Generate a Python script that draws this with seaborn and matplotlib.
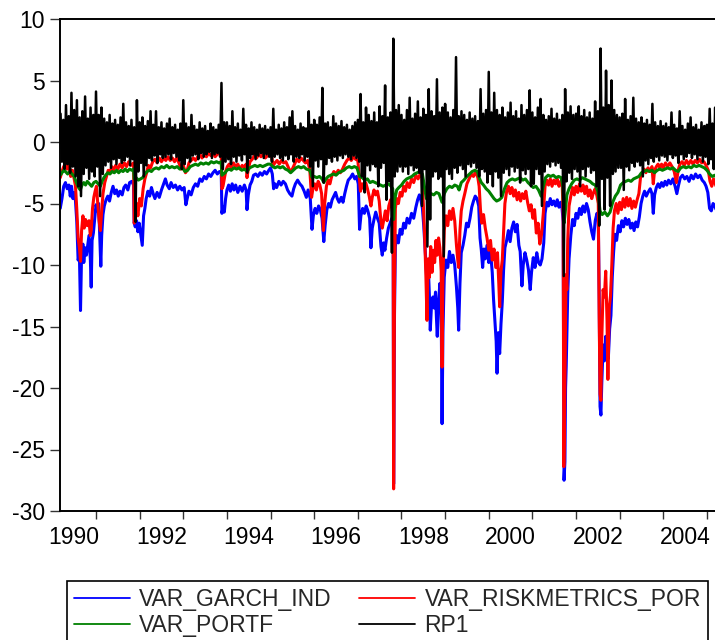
import numpy as np
import pandas as pd
import matplotlib
matplotlib.use("Agg")
import matplotlib.pyplot as plt
import seaborn as sns
from matplotlib.ticker import FixedLocator, NullFormatter, FixedFormatter
from matplotlib.lines import Line2D

# ---------------- data (decimal year, value) ----------------
garch_pts = [
 (1990.18,-5.4),(1990.22,-4.6),(1990.26,-3.6),(1990.30,-3.3),(1990.34,-3.8),(1990.38,-3.5),
 (1990.41,-4.4),(1990.44,-3.6),(1990.47,-4.6),(1990.50,-4.1),(1990.53,-4.8),(1990.56,-6.5),
 (1990.59,-9.6),(1990.62,-9.2),(1990.645,-13.7),(1990.67,-9.0),(1990.70,-8.3),(1990.72,-9.8),
 (1990.75,-8.6),(1990.78,-9.2),(1990.81,-8.4),(1990.84,-7.6),(1990.87,-9.5),(1990.89,-11.8),
 (1990.91,-8.0),(1990.94,-7.4),(1990.97,-6.2),(1991.00,-5.1),(1991.03,-5.6),(1991.06,-5.0),
 (1991.09,-8.2),(1991.11,-10.1),(1991.13,-7.6),(1991.16,-5.9),(1991.19,-5.2),(1991.23,-4.7),
 (1991.27,-4.4),(1991.31,-4.8),(1991.35,-4.1),(1991.39,-3.6),(1991.43,-4.2),(1991.47,-3.9),
 (1991.51,-4.4),(1991.55,-4.0),(1991.60,-4.3),(1991.64,-3.7),(1991.68,-3.5),(1991.73,-3.9),
 (1991.77,-3.3),(1991.82,-3.2),(1991.86,-3.5),(1991.875,-6.6),(1991.90,-6.9),(1991.93,-6.4),
 (1991.96,-7.3),(1991.99,-6.6),(1992.03,-7.6),(1992.06,-8.4),(1992.09,-6.0),(1992.12,-5.4),
 (1992.15,-4.6),(1992.19,-4.0),(1992.23,-4.4),(1992.27,-3.7),(1992.31,-4.2),(1992.35,-4.6),
 (1992.40,-4.1),(1992.45,-4.5),(1992.50,-3.9),(1992.55,-3.4),(1992.59,-3.0),(1992.63,-3.5),
 (1992.68,-3.8),(1992.72,-3.3),(1992.77,-3.7),(1992.82,-3.5),(1992.87,-3.9),(1992.92,-3.6),
 (1992.97,-3.9),(1993.02,-3.7),(1993.06,-5.1),(1993.09,-4.6),(1993.13,-4.0),(1993.18,-4.3),
 (1993.23,-3.7),(1993.28,-3.4),(1993.33,-3.6),(1993.38,-3.0),(1993.43,-3.2),(1993.48,-2.8),
 (1993.53,-3.0),(1993.58,-2.6),(1993.63,-2.8),(1993.68,-2.5),(1993.73,-2.3),(1993.78,-2.6),
 (1993.83,-2.4),(1993.87,-2.5),(1993.885,-5.8),(1993.91,-5.3),(1993.94,-5.7),(1993.97,-4.6),
 (1994.00,-3.9),(1994.04,-3.5),(1994.08,-4.0),(1994.12,-3.4),(1994.16,-3.9),(1994.20,-3.5),
 (1994.25,-4.1),(1994.30,-3.6),(1994.35,-4.0),(1994.40,-3.5),(1994.44,-3.9),(1994.46,-5.5),
 (1994.49,-4.3),(1994.53,-3.5),(1994.57,-3.2),(1994.61,-2.7),(1994.66,-2.6),(1994.71,-2.8),
 (1994.76,-2.5),(1994.81,-2.7),(1994.86,-2.4),(1994.91,-2.6),(1994.96,-2.3),(1995.00,-2.1),
 (1995.04,-2.6),(1995.07,-3.8),(1995.10,-3.4),(1995.14,-3.7),(1995.19,-3.2),(1995.24,-3.5),
 (1995.29,-3.2),(1995.34,-3.4),(1995.39,-3.9),(1995.44,-4.2),(1995.49,-4.4),(1995.53,-3.8),
 (1995.57,-3.4),(1995.62,-3.1),(1995.67,-3.4),(1995.72,-3.6),(1995.77,-4.0),(1995.82,-4.5),
 (1995.86,-3.9),(1995.91,-4.6),(1995.95,-7.1),(1995.98,-6.0),(1996.02,-5.4),(1996.06,-5.8),
 (1996.10,-5.2),(1996.14,-5.5),(1996.18,-6.2),(1996.22,-8.1),(1996.25,-6.8),(1996.29,-5.5),
 (1996.33,-5.0),(1996.37,-5.3),(1996.41,-4.7),(1996.45,-4.4),(1996.49,-4.1),(1996.53,-4.6),
 (1996.57,-4.9),(1996.62,-4.5),(1996.66,-4.9),(1996.70,-4.2),(1996.74,-3.6),(1996.78,-3.1),
 (1996.83,-2.9),(1996.88,-2.6),(1996.93,-3.0),(1996.97,-2.8),(1997.01,-3.4),(1997.04,-7.1),
 (1997.07,-6.0),(1997.11,-5.4),(1997.15,-5.8),(1997.19,-5.2),(1997.23,-5.6),(1997.27,-6.2),
 (1997.30,-8.6),(1997.33,-7.0),(1997.37,-6.3),(1997.41,-5.7),(1997.45,-6.2),(1997.49,-6.6),
 (1997.53,-8.5),(1997.56,-9.2),(1997.59,-8.2),(1997.62,-8.8),(1997.66,-7.8),(1997.70,-7.0),
 (1997.74,-6.6),(1997.78,-6.2),(1997.81,-7.0),(1997.82,-27.8),(1997.84,-14.0),(1997.86,-8.5),
 (1997.89,-7.6),(1997.93,-8.2),(1997.97,-7.1),(1998.01,-7.5),(1998.05,-6.6),(1998.09,-7.0),
 (1998.13,-6.2),(1998.18,-6.6),(1998.23,-5.8),(1998.28,-6.2),(1998.33,-5.3),(1998.37,-4.7),
 (1998.41,-4.3),(1998.45,-4.8),(1998.48,-5.4),(1998.51,-6.8),(1998.55,-9.2),(1998.58,-11.2),
 (1998.61,-9.8),(1998.64,-12.5),(1998.66,-15.3),(1998.69,-13.1),(1998.72,-12.6),(1998.75,-13.5),
 (1998.78,-12.2),(1998.80,-14.2),(1998.82,-15.8),(1998.85,-13.0),(1998.88,-11.5),(1998.91,-13.8),
 (1998.93,-22.9),(1998.95,-15.5),(1998.98,-11.0),(1999.02,-9.6),(1999.06,-10.2),(1999.10,-8.9),
 (1999.14,-9.8),(1999.18,-9.2),(1999.22,-10.0),(1999.26,-11.8),(1999.29,-13.5),(1999.31,-15.3),
 (1999.34,-11.5),(1999.37,-9.0),(1999.41,-8.4),(1999.45,-7.6),(1999.49,-6.6),(1999.53,-6.9),
 (1999.57,-6.2),(1999.61,-5.3),(1999.65,-4.8),(1999.69,-4.4),(1999.73,-4.6),(1999.77,-5.2),
 (1999.80,-7.8),(1999.83,-8.8),(1999.86,-10.2),(1999.89,-8.7),(1999.92,-9.5),(1999.96,-8.4),
 (2000.00,-9.8),(2000.04,-8.9),(2000.08,-10.6),(2000.11,-12.8),(2000.14,-14.5),(2000.17,-16.2),
 (2000.19,-18.8),(2000.22,-15.5),(2000.25,-17.2),(2000.28,-14.8),(2000.31,-13.0),(2000.34,-10.4),
 (2000.37,-8.6),(2000.41,-8.0),(2000.45,-7.2),(2000.49,-8.1),(2000.53,-7.0),(2000.57,-6.5),
 (2000.61,-7.3),(2000.65,-6.7),(2000.69,-8.4),(2000.72,-8.9),(2000.76,-11.7),(2000.79,-10.0),
 (2000.83,-9.0),(2000.87,-9.6),(2000.91,-10.4),(2000.95,-12.0),(2000.98,-10.6),(2001.02,-9.4),
 (2001.06,-10.2),(2001.10,-9.0),(2001.14,-9.8),(2001.18,-10.0),(2001.22,-9.5),(2001.26,-8.2),
 (2001.29,-5.8),(2001.33,-4.9),(2001.37,-5.2),(2001.41,-4.6),(2001.45,-5.1),(2001.49,-4.8),
 (2001.53,-5.2),(2001.57,-4.7),(2001.61,-5.3),(2001.65,-4.9),(2001.68,-5.4),(2001.705,-6.5),
 (2001.725,-27.5),(2001.745,-26.0),(2001.76,-20.0),(2001.775,-18.2),(2001.79,-15.5),(2001.81,-12.3),
 (2001.84,-9.5),(2001.88,-7.6),(2001.92,-6.3),(2001.96,-6.8),(2002.00,-5.8),(2002.04,-6.2),
 (2002.08,-5.4),(2002.12,-5.9),(2002.16,-5.2),(2002.20,-5.7),(2002.24,-5.0),(2002.28,-5.5),
 (2002.32,-6.5),(2002.36,-7.3),(2002.40,-7.9),(2002.44,-6.4),(2002.48,-5.8),(2002.51,-6.3),
 (2002.53,-12.5),(2002.55,-21.5),(2002.57,-22.2),(2002.59,-19.6),(2002.62,-16.5),(2002.65,-17.8),
 (2002.68,-15.8),(2002.71,-16.8),(2002.74,-17.6),(2002.77,-15.2),(2002.80,-14.1),(2002.83,-11.0),
 (2002.86,-9.0),(2002.89,-7.5),(2002.93,-8.0),(2002.97,-6.8),(2003.01,-7.3),(2003.05,-6.4),
 (2003.09,-6.9),(2003.13,-6.2),(2003.17,-6.7),(2003.21,-6.3),(2003.25,-7.0),(2003.29,-6.6),
 (2003.33,-7.2),(2003.37,-6.5),(2003.41,-6.9),(2003.45,-6.1),(2003.49,-5.0),(2003.53,-4.4),
 (2003.57,-4.0),(2003.61,-4.4),(2003.65,-4.1),(2003.70,-3.8),(2003.74,-4.2),(2003.77,-5.8),
 (2003.80,-4.3),(2003.84,-3.7),(2003.88,-3.4),(2003.92,-3.7),(2003.96,-3.3),(2004.00,-3.6),
 (2004.04,-3.2),(2004.08,-3.5),(2004.12,-3.1),(2004.17,-3.4),(2004.22,-3.0),(2004.27,-3.6),
 (2004.31,-4.2),(2004.35,-3.5),(2004.39,-2.9),(2004.44,-2.7),(2004.49,-3.0),(2004.54,-2.8),
 (2004.59,-3.2),(2004.64,-2.7),(2004.69,-3.0),(2004.74,-2.6),(2004.79,-2.9),(2004.84,-2.7),
 (2004.89,-3.1),(2004.94,-3.3),(2004.98,-3.6),(2005.02,-4.1),(2005.06,-5.4),(2005.10,-5.6),
 (2005.14,-5.0),(2005.18,-5.2),(2005.22,-5.6)]

riskmetrics_pts = [
 (1990.18,-2.9),(1990.22,-2.4),(1990.26,-2.0),(1990.30,-1.8),(1990.34,-2.2),(1990.38,-1.9),
 (1990.42,-2.8),(1990.46,-2.3),(1990.50,-3.0),(1990.53,-3.6),(1990.56,-5.5),(1990.59,-7.8),
 (1990.62,-8.6),(1990.645,-9.7),(1990.67,-7.2),(1990.70,-6.0),(1990.73,-7.0),(1990.76,-6.3),
 (1990.80,-6.8),(1990.84,-6.4),(1990.87,-7.6),(1990.89,-7.2),(1990.92,-5.4),(1990.95,-4.5),
 (1990.98,-4.0),(1991.01,-3.6),(1991.04,-5.0),(1991.07,-6.4),(1991.10,-7.2),(1991.13,-5.6),
 (1991.16,-4.2),(1991.20,-3.3),(1991.24,-2.8),(1991.28,-2.3),(1991.32,-2.5),(1991.36,-2.0),
 (1991.40,-2.3),(1991.45,-1.9),(1991.50,-2.2),(1991.55,-1.8),(1991.60,-2.1),(1991.65,-1.7),
 (1991.70,-2.0),(1991.75,-1.6),(1991.80,-1.9),(1991.86,-1.7),(1991.875,-6.6),(1991.90,-6.2),
 (1991.93,-5.0),(1991.96,-6.0),(1992.00,-4.6),(1992.04,-5.2),(1992.08,-3.8),(1992.12,-3.0),
 (1992.16,-2.5),(1992.20,-1.9),(1992.25,-2.1),(1992.30,-1.6),(1992.35,-1.4),(1992.40,-1.7),
 (1992.45,-1.3),(1992.50,-1.6),(1992.55,-1.3),(1992.60,-1.5),(1992.65,-1.2),(1992.70,-1.5),
 (1992.75,-1.3),(1992.80,-1.6),(1992.85,-1.3),(1992.90,-1.7),(1992.95,-2.2),(1993.00,-1.9),
 (1993.05,-2.5),(1993.09,-2.3),(1993.13,-1.7),(1993.18,-1.5),(1993.23,-1.3),(1993.28,-1.5),
 (1993.33,-1.2),(1993.38,-1.0),(1993.43,-1.3),(1993.48,-1.0),(1993.53,-1.2),(1993.58,-0.9),
 (1993.63,-1.1),(1993.68,-0.9),(1993.73,-1.2),(1993.78,-1.0),(1993.83,-0.9),(1993.87,-1.1),
 (1993.885,-3.8),(1993.91,-3.6),(1993.94,-3.0),(1993.97,-2.4),(1994.01,-2.0),(1994.05,-1.8),
 (1994.10,-2.1),(1994.15,-1.7),(1994.20,-2.0),(1994.25,-1.8),(1994.30,-2.2),(1994.35,-1.9),
 (1994.40,-2.1),(1994.44,-1.8),(1994.46,-2.9),(1994.49,-2.2),(1994.53,-1.6),(1994.58,-1.4),
 (1994.63,-1.1),(1994.68,-1.3),(1994.73,-1.0),(1994.78,-1.2),(1994.83,-1.0),(1994.88,-1.3),
 (1994.93,-1.1),(1994.98,-0.9),(1995.02,-1.1),(1995.06,-1.9),(1995.10,-1.7),(1995.15,-1.5),
 (1995.20,-1.8),(1995.25,-1.5),(1995.30,-1.7),(1995.35,-1.6),(1995.40,-2.0),(1995.45,-2.4),
 (1995.50,-2.2),(1995.55,-1.8),(1995.60,-1.4),(1995.65,-1.6),(1995.70,-1.3),(1995.75,-1.5),
 (1995.80,-1.7),(1995.85,-1.5),(1995.90,-2.3),(1995.94,-4.5),(1995.97,-3.8),(1996.01,-3.4),
 (1996.05,-3.9),(1996.09,-3.2),(1996.13,-3.5),(1996.17,-4.2),(1996.21,-7.2),(1996.24,-5.0),
 (1996.28,-3.6),(1996.32,-3.1),(1996.36,-3.4),(1996.40,-2.8),(1996.45,-2.4),(1996.50,-2.6),
 (1996.55,-2.3),(1996.60,-2.5),(1996.65,-2.2),(1996.70,-1.8),(1996.75,-1.5),(1996.80,-1.3),
 (1996.85,-1.5),(1996.90,-1.2),(1996.95,-1.4),(1997.00,-1.5),(1997.03,-2.8),(1997.06,-4.0),
 (1997.10,-3.4),(1997.14,-3.8),(1997.18,-3.3),(1997.22,-3.8),(1997.26,-4.4),(1997.30,-5.2),
 (1997.33,-4.5),(1997.37,-3.9),(1997.41,-4.3),(1997.45,-4.0),(1997.49,-4.8),(1997.53,-6.5),
 (1997.56,-7.0),(1997.60,-6.2),(1997.63,-5.6),(1997.67,-6.4),(1997.71,-5.2),(1997.75,-4.7),
 (1997.78,-5.4),(1997.81,-6.0),(1997.82,-28.2),(1997.84,-12.0),(1997.86,-5.4),(1997.89,-4.6),
 (1997.93,-5.0),(1997.97,-4.1),(1998.01,-4.4),(1998.05,-3.6),(1998.09,-4.0),(1998.13,-3.3),
 (1998.18,-3.7),(1998.23,-3.0),(1998.28,-3.3),(1998.33,-2.7),(1998.38,-3.0),(1998.43,-2.6),
 (1998.47,-2.9),(1998.50,-5.0),(1998.53,-7.5),(1998.56,-11.0),(1998.585,-14.5),(1998.61,-9.5),
 (1998.64,-11.0),(1998.67,-8.5),(1998.70,-10.6),(1998.73,-8.8),(1998.76,-9.8),(1998.79,-8.0),
 (1998.82,-9.2),(1998.85,-7.8),(1998.88,-8.6),(1998.91,-10.5),(1998.93,-18.3),(1998.95,-11.0),
 (1998.98,-7.2),(1999.02,-6.0),(1999.06,-6.8),(1999.10,-5.6),(1999.14,-6.3),(1999.18,-5.4),
 (1999.22,-6.4),(1999.26,-8.4),(1999.29,-9.6),(1999.31,-10.2),(1999.34,-7.2),(1999.37,-5.6),
 (1999.41,-4.8),(1999.45,-4.2),(1999.50,-3.4),(1999.55,-3.0),(1999.60,-2.6),(1999.65,-2.8),
 (1999.70,-2.4),(1999.75,-2.9),(1999.78,-3.6),(1999.81,-5.5),(1999.84,-6.6),(1999.88,-5.9),
 (1999.92,-7.0),(1999.96,-7.8),(2000.00,-8.8),(2000.04,-8.0),(2000.08,-9.6),(2000.12,-8.7),
 (2000.16,-10.2),(2000.20,-9.0),(2000.23,-11.5),(2000.25,-13.4),(2000.28,-10.5),(2000.31,-9.6),
 (2000.34,-7.2),(2000.37,-5.0),(2000.41,-4.0),(2000.45,-3.6),(2000.49,-4.2),(2000.53,-3.7),
 (2000.57,-4.4),(2000.61,-3.9),(2000.65,-4.7),(2000.69,-4.1),(2000.73,-4.8),(2000.77,-4.2),
 (2000.81,-4.6),(2000.85,-4.0),(2000.89,-4.9),(2000.93,-5.6),(2000.97,-5.1),(2001.01,-6.2),
 (2001.05,-5.5),(2001.09,-7.4),(2001.13,-6.6),(2001.17,-8.3),(2001.21,-7.5),(2001.25,-5.8),
 (2001.29,-3.6),(2001.33,-3.1),(2001.37,-3.5),(2001.41,-3.0),(2001.45,-3.6),(2001.49,-3.1),
 (2001.53,-3.4),(2001.57,-3.0),(2001.61,-3.6),(2001.65,-3.2),(2001.685,-3.6),(2001.705,-6.0),
 (2001.72,-26.4),(2001.74,-21.5),(2001.755,-16.0),(2001.77,-10.8),(2001.79,-12.0),(2001.81,-8.0),
 (2001.84,-5.2),(2001.88,-4.4),(2001.92,-3.7),(2001.96,-4.3),(2002.00,-3.6),(2002.04,-4.1),
 (2002.08,-3.4),(2002.12,-4.0),(2002.16,-3.5),(2002.20,-4.2),(2002.24,-3.6),(2002.28,-4.4),
 (2002.32,-3.9),(2002.36,-4.6),(2002.40,-4.1),(2002.44,-3.8),(2002.48,-4.4),(2002.51,-5.0),
 (2002.53,-14.0),(2002.55,-20.5),(2002.57,-21.0),(2002.59,-16.0),(2002.62,-12.0),(2002.65,-12.6),
 (2002.68,-10.5),(2002.71,-14.5),(2002.73,-19.3),(2002.76,-13.5),(2002.79,-12.5),(2002.82,-10.0),
 (2002.85,-7.0),(2002.88,-5.6),(2002.92,-5.0),(2002.96,-5.8),(2003.00,-4.9),(2003.04,-5.5),
 (2003.08,-4.6),(2003.12,-5.3),(2003.16,-4.5),(2003.20,-5.2),(2003.24,-4.6),(2003.28,-5.4),
 (2003.32,-4.8),(2003.36,-5.3),(2003.40,-4.7),(2003.44,-4.2),(2003.48,-2.8),(2003.52,-2.5),
 (2003.56,-2.2),(2003.60,-2.5),(2003.65,-2.1),(2003.70,-2.4),(2003.74,-2.0),(2003.77,-3.4),
 (2003.80,-2.3),(2003.84,-2.0),(2003.88,-1.8),(2003.92,-2.1),(2003.96,-1.8),(2004.00,-2.1),
 (2004.05,-1.7),(2004.10,-2.0),(2004.15,-1.7),(2004.20,-2.0),(2004.25,-2.4),(2004.30,-3.3),
 (2004.34,-2.3),(2004.38,-1.8),(2004.43,-1.6),(2004.48,-1.9),(2004.53,-1.5),(2004.58,-1.8),
 (2004.63,-1.5),(2004.68,-1.8),(2004.73,-1.5),(2004.78,-1.7),(2004.83,-1.4),(2004.88,-1.7),
 (2004.93,-1.6),(2004.98,-1.9),(2005.03,-2.3),(2005.07,-3.2),(2005.11,-3.6),(2005.15,-3.0),
 (2005.19,-3.4),(2005.22,-3.7)]

portf_pts = [
 (1990.18,-2.7),(1990.22,-2.5),(1990.26,-2.3),(1990.30,-2.4),(1990.35,-2.6),(1990.40,-2.4),
 (1990.45,-2.6),(1990.50,-2.8),(1990.55,-3.3),(1990.60,-3.7),(1990.64,-3.9),(1990.68,-3.5),
 (1990.72,-3.3),(1990.76,-3.5),(1990.80,-3.2),(1990.85,-3.4),(1990.90,-3.6),(1990.95,-3.3),
 (1991.00,-3.2),(1991.05,-3.4),(1991.10,-3.6),(1991.14,-3.2),(1991.18,-2.9),(1991.22,-2.7),
 (1991.27,-2.5),(1991.32,-2.6),(1991.37,-2.4),(1991.42,-2.5),(1991.47,-2.3),(1991.52,-2.5),
 (1991.57,-2.3),(1991.62,-2.4),(1991.67,-2.2),(1991.72,-2.4),(1991.77,-2.2),(1991.82,-2.3),
 (1991.86,-2.2),(1991.875,-3.0),(1991.92,-2.9),(1991.97,-3.1),(1992.02,-3.0),(1992.07,-2.9),
 (1992.12,-2.6),(1992.17,-2.4),(1992.22,-2.3),(1992.27,-2.4),(1992.32,-2.2),(1992.38,-2.1),
 (1992.44,-2.2),(1992.50,-2.0),(1992.56,-2.1),(1992.62,-1.9),(1992.68,-2.1),(1992.74,-2.0),
 (1992.80,-2.1),(1992.86,-2.0),(1992.92,-2.2),(1992.98,-2.1),(1993.04,-2.4),(1993.10,-2.3),
 (1993.16,-2.0),(1993.22,-1.9),(1993.28,-1.8),(1993.34,-1.9),(1993.40,-1.7),(1993.46,-1.8),
 (1993.52,-1.7),(1993.58,-1.8),(1993.64,-1.6),(1993.70,-1.7),(1993.76,-1.6),(1993.82,-1.7),
 (1993.87,-1.6),(1993.885,-2.7),(1993.92,-2.6),(1993.96,-2.5),(1994.00,-2.3),(1994.05,-2.2),
 (1994.10,-2.3),(1994.16,-2.1),(1994.22,-2.2),(1994.28,-2.1),(1994.34,-2.3),(1994.40,-2.2),
 (1994.46,-2.4),(1994.52,-2.1),(1994.58,-2.0),(1994.64,-1.9),(1994.70,-2.0),(1994.76,-1.9),
 (1994.82,-2.0),(1994.88,-1.9),(1994.94,-1.8),(1995.00,-1.8),(1995.05,-2.0),(1995.10,-2.1),
 (1995.16,-2.0),(1995.22,-2.1),(1995.28,-2.0),(1995.34,-2.2),(1995.40,-2.3),(1995.46,-2.5),
 (1995.52,-2.3),(1995.58,-2.1),(1995.64,-2.0),(1995.70,-2.1),(1995.76,-2.0),(1995.82,-2.2),
 (1995.90,-2.3),(1995.95,-2.9),(1996.00,-2.8),(1996.06,-2.9),(1996.12,-2.8),(1996.18,-3.0),
 (1996.22,-3.3),(1996.27,-3.0),(1996.32,-2.8),(1996.38,-2.7),(1996.44,-2.6),(1996.50,-2.7),
 (1996.56,-2.5),(1996.62,-2.4),(1996.68,-2.3),(1996.74,-2.1),(1996.80,-2.0),(1996.86,-2.1),
 (1996.92,-2.0),(1996.98,-2.1),(1997.04,-2.8),(1997.10,-2.9),(1997.16,-3.1),(1997.22,-3.0),
 (1997.28,-3.3),(1997.34,-3.2),(1997.40,-3.3),(1997.46,-3.4),(1997.52,-3.5),(1997.58,-3.6),
 (1997.64,-3.5),(1997.70,-3.4),(1997.76,-3.6),(1997.80,-3.8),(1997.82,-6.3),(1997.85,-4.6),
 (1997.89,-3.9),(1997.94,-3.7),(1998.00,-3.5),(1998.06,-3.2),(1998.12,-3.0),(1998.18,-2.9),
 (1998.24,-2.8),(1998.30,-2.6),(1998.36,-2.5),(1998.42,-2.4),(1998.48,-2.6),(1998.52,-3.5),
 (1998.57,-4.6),(1998.62,-4.4),(1998.68,-4.2),(1998.74,-4.3),(1998.80,-4.1),(1998.86,-4.2),
 (1998.93,-4.9),(1998.98,-4.2),(1999.04,-3.8),(1999.10,-3.6),(1999.16,-3.7),(1999.22,-3.5),
 (1999.28,-3.6),(1999.32,-3.9),(1999.37,-3.3),(1999.43,-3.1),(1999.50,-2.8),(1999.56,-2.6),
 (1999.62,-2.4),(1999.68,-2.3),(1999.74,-2.4),(1999.78,-2.9),(1999.83,-3.3),(1999.88,-3.5),
 (1999.94,-3.8),(2000.00,-4.0),(2000.06,-4.3),(2000.12,-4.6),(2000.18,-4.8),(2000.24,-4.7),
 (2000.30,-4.5),(2000.36,-3.8),(2000.42,-3.3),(2000.48,-3.1),(2000.54,-3.0),(2000.60,-3.1),
 (2000.66,-3.0),(2000.72,-2.9),(2000.78,-3.1),(2000.84,-3.0),(2000.90,-3.3),(2000.96,-3.5),
 (2001.02,-3.7),(2001.08,-3.6),(2001.14,-3.9),(2001.20,-4.4),(2001.25,-3.6),(2001.30,-2.9),
 (2001.36,-2.7),(2001.42,-2.8),(2001.48,-2.7),(2001.54,-2.9),(2001.60,-2.8),(2001.66,-2.9),
 (2001.70,-3.6),(2001.725,-6.6),(2001.75,-5.8),(2001.79,-4.3),(2001.84,-3.8),(2001.90,-3.4),
 (2001.96,-3.1),(2002.02,-3.0),(2002.08,-3.1),(2002.14,-2.9),(2002.20,-3.0),(2002.26,-3.1),
 (2002.32,-3.2),(2002.38,-3.4),(2002.44,-3.5),(2002.50,-4.0),(2002.55,-5.6),(2002.60,-5.9),
 (2002.66,-5.7),(2002.72,-6.0),(2002.78,-5.7),(2002.84,-4.9),(2002.90,-4.4),(2002.96,-4.1),
 (2003.02,-3.5),(2003.08,-3.3),(2003.14,-3.2),(2003.20,-3.1),(2003.26,-3.2),(2003.32,-3.0),
 (2003.38,-2.9),(2003.44,-2.8),(2003.50,-2.5),(2003.56,-2.4),(2003.62,-2.3),(2003.68,-2.4),
 (2003.74,-2.3),(2003.80,-2.5),(2003.86,-2.3),(2003.92,-2.2),(2003.98,-2.3),(2004.04,-2.2),
 (2004.10,-2.1),(2004.16,-2.2),(2004.22,-2.1),(2004.28,-2.3),(2004.34,-2.4),(2004.40,-2.1),
 (2004.46,-2.0),(2004.52,-2.1),(2004.58,-2.0),(2004.64,-2.1),(2004.70,-1.9),(2004.76,-2.0),
 (2004.82,-1.9),(2004.88,-2.0),(2004.94,-2.1),(2005.00,-2.3),(2005.06,-2.6),(2005.12,-2.8),
 (2005.18,-2.7),(2005.22,-2.9)]

# RP1: 16 samples per year starting 1990 + 3/16; each sample = (high, low) swing
rp1_start = 1990.1875
rp1_hi = [
 2.3, 1.8, 3.0, 2.1, 4.0, 2.6, 3.4, 2.0, 2.5, 3.7, 1.9, 2.8, 2.2,
 4.1, 2.2, 2.8, 1.9, 1.6, 2.2, 1.5, 1.8, 1.4, 2.0, 3.1, 1.6, 1.3, 1.8, 1.2, 3.4,
 1.6, 2.0, 1.3, 1.7, 2.5, 1.4, 2.5, 1.2, 1.6, 1.1, 1.5, 1.9, 1.2, 1.4, 1.0, 1.5,
 3.4, 1.5, 1.2, 2.2, 1.3, 1.0, 1.6, 1.1, 1.3, 0.9, 1.5, 1.2, 1.0, 1.4, 4.8, 1.6,
 1.6, 1.3, 2.5, 1.2, 1.5, 1.0, 2.7, 1.4, 1.1, 1.6, 1.2, 1.0, 1.4, 1.1, 1.3, 1.0,
 1.2, 2.7, 1.0, 1.4, 1.1, 1.6, 1.2, 2.0, 2.5, 1.3, 1.0, 1.5, 1.2, 1.1, 2.5, 1.4,
 1.8, 1.4, 2.0, 4.4, 1.5, 1.6, 1.2, 2.1, 1.5, 1.3, 1.7, 1.2, 1.4, 1.0, 1.3, 1.6,
 1.8, 3.9, 1.6, 2.8, 2.2, 1.7, 2.4, 1.6, 2.9, 2.1, 4.6, 2.0, 2.4, 8.4, 2.6, 3.0,
 2.2, 1.8, 2.6, 3.6, 1.9, 2.3, 3.3, 2.0, 2.7, 2.2, 4.3, 2.5, 2.1, 5.1, 2.4, 2.8,
 3.1, 2.4, 2.0, 2.6, 6.9, 2.1, 2.5, 2.2, 1.8, 2.4, 1.9, 2.1, 1.7, 4.3, 2.3, 2.6,
 5.7, 2.4, 4.0, 2.6, 2.2, 2.8, 2.0, 2.4, 3.2, 2.1, 2.5, 1.9, 3.0, 2.2, 2.6, 4.2,
 2.4, 2.0, 2.8, 3.5, 2.2, 1.8, 2.1, 2.7, 1.9, 2.3, 1.8, 2.2, 4.3, 2.4, 2.9, 2.2,
 2.3, 2.9, 2.1, 2.6, 2.0, 2.4, 1.9, 3.3, 2.5, 7.6, 2.8, 5.8, 3.0, 5.0, 2.6, 2.2,
 2.0, 2.3, 3.5, 1.8, 2.1, 3.6, 1.9, 1.6, 2.0, 1.5, 1.8, 1.4, 3.1, 1.6, 1.3, 1.7,
 1.3, 1.5, 1.2, 2.4, 1.4, 1.1, 2.5, 1.3, 1.0, 1.5, 2.0, 1.2, 1.4, 1.0, 1.6, 1.3,
 1.4, 2.7, 1.5, 2.8]
rp1_lo = [
 -1.6, -2.2, -1.8, -2.5, -2.0, -2.8, -3.6, -4.4, -2.6, -2.1, -3.0, -2.4, -2.8,
 -2.0, -4.4, -2.6, -1.9, -1.6, -2.1, -1.4, -1.8, -1.3, -1.7, -1.5, -1.2, -1.9, -1.4, -6.5, -2.4,
 -1.7, -2.8, -1.9, -1.3, -1.5, -1.1, -1.7, -1.0, -1.3, -1.2, -1.0, -1.4, -0.9, -1.2, -1.5, -2.2,
 -1.8, -1.3, -1.6, -1.1, -1.0, -1.4, -0.9, -1.2, -1.0, -0.8, -1.3, -1.0, -0.9, -1.2, -2.2, -1.6,
 -1.4, -1.8, -1.2, -1.6, -1.1, -1.5, -1.0, -2.5, -1.3, -1.0, -1.4, -1.1, -0.9, -1.3, -1.0, -1.2,
 -1.6, -1.2, -1.0, -1.3, -1.5, -1.1, -1.4, -1.0, -1.6, -1.2, -1.3, -1.0, -1.5, -1.2, -2.0, -3.6,
 -1.5, -2.0, -1.4, -3.3, -1.8, -1.3, -1.6, -1.2, -1.5, -1.1, -1.3, -1.0, -1.2, -1.4, -1.1, -1.3,
 -1.6, -2.8, -4.1, -1.9, -2.3, -1.8, -2.0, -3.6, -2.1, -1.7, -4.7, -3.2, -9.0, -2.8, -2.4, -2.0,
 -2.4, -2.0, -2.6, -1.9, -2.3, -2.1, -2.5, -5.2, -2.2, -8.5, -6.3, -2.8, -2.4, -3.0, -2.8, -9.3,
 -2.2, -2.6, -3.0, -2.1, -2.5, -1.9, -2.2, -2.8, -1.8, -2.0, -1.7, -2.1, -2.8, -2.2, -2.4, -3.3,
 -2.6, -3.6, -2.4, -2.9, -4.4, -2.5, -2.2, -2.7, -2.0, -2.4, -2.1, -3.3, -2.3, -2.6, -2.2, -3.6,
 -3.4, -2.2, -2.6, -5.2, -2.4, -1.8, -2.0, -1.6, -1.9, -1.7, -2.1, -10.9, -3.2, -2.5, -3.0, -2.2,
 -2.4, -3.6, -2.2, -2.8, -2.0, -2.5, -2.3, -3.6, -6.8, -3.0, -5.5, -2.9, -5.2, -2.6, -2.4, -2.1,
 -2.1, -3.9, -2.0, -2.3, -1.7, -2.0, -1.6, -1.9, -2.8, -1.5, -1.8, -1.3, -1.6, -1.2, -1.5, -1.1,
 -1.2, -1.5, -1.0, -1.3, -1.1, -1.7, -1.0, -1.4, -1.2, -0.9, -1.3, -1.0, -1.4, -1.1, -1.6, -1.2,
 -1.8, -1.4, -2.2, -1.6]

labels = ["VAR_GARCH_IND", "VAR_RISKMETRICS_POR", "VAR_PORTF", "RP1"]
colors = ["#0000ff", "#ff0000", "#008000", "#000000"]
year_labels = ["1990", "1992", "1994", "1996", "1998", "2000", "2002", "2004"]
y_ticks = [-30, -25, -20, -15, -10, -5, 0, 5, 10]

# ---------------- build frames ----------------
def pts_df(pts):
    t, v = zip(*pts)
    return pd.DataFrame({"t": t, "v": v})

df_garch = pts_df(garch_pts)
df_risk = pts_df(riskmetrics_pts)
df_portf = pts_df(portf_pts)

n = len(rp1_hi)
rp_t = np.empty(2 * n)
rp_v = np.empty(2 * n)
base = rp1_start + np.arange(n) / 16.0
rp_t[0::2] = base
rp_t[1::2] = base + 1 / 32.0
rp_v[0::2] = rp1_hi
rp_v[1::2] = rp1_lo
df_rp1 = pd.DataFrame({"t": rp_t, "v": rp_v})

# ---------------- plot ----------------
sns.set_theme(style="white")
plt.rcParams["font.family"] = ["Liberation Sans", "DejaVu Sans"]
plt.rcParams["axes.unicode_minus"] = False

fig = plt.figure(figsize=(7.15, 6.4), dpi=100)
ax = fig.add_axes([60 / 715, 1 - 511 / 640, 660 / 715, 492 / 640])

sns.lineplot(data=df_garch, x="t", y="v", color=colors[0], lw=2.2, ax=ax,
             estimator=None, sort=False, legend=False)
sns.lineplot(data=df_risk, x="t", y="v", color=colors[1], lw=2.2, ax=ax,
             estimator=None, sort=False, legend=False)
sns.lineplot(data=df_portf, x="t", y="v", color=colors[2], lw=2.2, ax=ax,
             estimator=None, sort=False, legend=False)
sns.lineplot(data=df_rp1, x="t", y="v", color=colors[3], lw=1.8, ax=ax,
             estimator=None, sort=False, legend=False)

ax.set_xlim(1990.175, 2005.299)
ax.set_ylim(-30, 10)
ax.set_xlabel("")
ax.set_ylabel("")

ax.xaxis.set_major_locator(FixedLocator(list(range(1991, 2006))))
ax.xaxis.set_major_formatter(NullFormatter())
ax.xaxis.set_minor_locator(FixedLocator([int(s) + 0.5 for s in year_labels]))
ax.xaxis.set_minor_formatter(FixedFormatter(year_labels))
ax.tick_params(axis="x", which="major", bottom=True, length=6, width=1.0,
               color="#333333", direction="out")
ax.tick_params(axis="x", which="minor", bottom=True, length=0, pad=11,
               labelsize=16.5, labelcolor="black")

ax.yaxis.set_major_locator(FixedLocator(y_ticks))
ax.yaxis.set_major_formatter(FixedFormatter([str(v) for v in y_ticks]))
ax.tick_params(axis="y", which="major", left=True, length=7, width=1.0,
               color="#333333", direction="out", pad=4, labelsize=16.5,
               labelcolor="black")

for s in ["left", "top", "bottom"]:
    ax.spines[s].set_visible(True)
    ax.spines[s].set_color("black")
    ax.spines[s].set_linewidth(1.4)
ax.spines["right"].set_visible(False)
ax.grid(False)

handles = [Line2D([], [], color=c, lw=1.3) for c in colors]
order = [0, 2, 1, 3]
leg = fig.legend([handles[i] for i in order], [labels[i] for i in order],
                 loc="upper left", bbox_to_anchor=(67 / 715, 1 - 581 / 640),
                 ncol=2, frameon=True, fancybox=False, edgecolor="black",
                 framealpha=1, fontsize=16.5, handlelength=2.45,
                 handletextpad=0.4, columnspacing=1.2, borderpad=0.3,
                 labelspacing=0.12, borderaxespad=0)
leg.get_frame().set_linewidth(1.2)

fig.savefig("out.png", dpi=100)
